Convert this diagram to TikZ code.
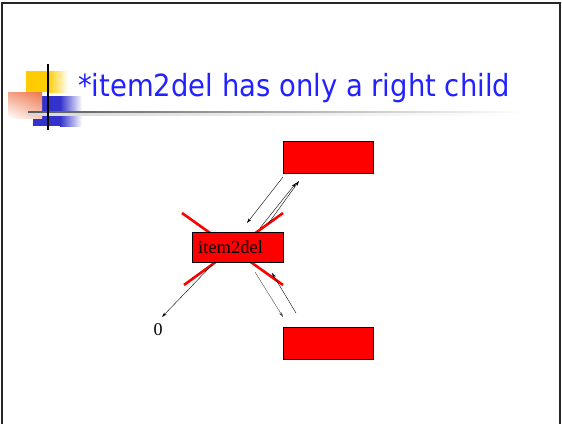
\documentclass[tikz,border=0pt]{standalone}
\usepackage{fontspec}
\setmainfont{Liberation Serif}
\newfontfamily\titlefont{DejaVu Sans}
\usetikzlibrary{arrows.meta,shadings}
\definecolor{titleblue}{RGB}{34,34,255}
\definecolor{logoyellow}{RGB}{255,204,0}
\definecolor{logoblue}{RGB}{51,51,204}
\definecolor{logoorange}{RGB}{238,120,80}
\tikzset{
  box/.style={draw=black, fill=red, line width=0.6pt, minimum width=90pt, minimum height=32pt, inner sep=0pt},
  link/.style={draw=black, line width=0.4pt, -{Stealth[length=5pt,width=3pt]}},
  cross/.style={draw=red, line width=2.6pt},
  frame/.style={draw=black!85, line width=2.5pt}
}
\begin{document}
\begin{tikzpicture}[x=1pt,y=-1pt]
\useasboundingbox (0,0) rectangle (562,423);
\fill[white] (0,0) rectangle (562,423);
% slide frame
\draw[frame] (2,430) -- (2,3) -- (560,3) -- (560,430);

% logo squares
\fill[logoyellow] (26,71) rectangle (48,92);
\shade[left color=logoyellow, right color=white] (48,71) rectangle (68,92);
\fill[logoblue] (33,96) rectangle (60,126);
\shade[left color=logoblue, right color=white] (60,96) rectangle (82,126);
\shade[lower left=white, upper right=logoorange, upper left=logoorange!70!white, lower right=logoorange!40!white] (8,92) rectangle (42,118);
% title rule
\shade[left color=black!65, right color=white] (28,111.5) rectangle (525,113.5);
\shade[left color=black!15, right color=white] (28,113.5) rectangle (525,115);
\draw[black, line width=2pt] (48,64) -- (48,130);

% title
\node[anchor=base west, inner sep=0pt, text=titleblue, font=\titlefont\fontsize{30.5}{34}\selectfont] (title) at (78,96) {\scalebox{0.9}[1]{*item2del has only a right child}};

% tree nodes
\node[box] (top) at (328,157) {};
\node[box] (bot) at (328,343.5) {};
\coordinate (x1a) at (182,213);
\coordinate (x1b) at (283,285);
\coordinate (x2a) at (283,213);
\coordinate (x2b) at (184,285);
\draw[cross] (x1a) -- (x1b);
\draw[cross] (x2a) -- (x2b);
\node[box, minimum width=91pt, minimum height=30pt] (del) at (237.5,247) {};
\node[anchor=base west, inner sep=0pt, font=\fontsize{18.5}{20}\selectfont] (dellabel) at (198,253.5) {item2del};
\node[inner sep=0pt, font=\fontsize{18}{20}\selectfont] (zero) at (158,330) {0};

% links
\coordinate (t1) at (283,177);
\coordinate (d1) at (247,223);
\draw[link] (t1) -- (d1);
\coordinate (d2) at (260,228);
\coordinate (t2) at (296,183);
\draw[link] (d2) -- (t2);
\coordinate (d3) at (268,224);
\coordinate (t3) at (299,181);
\draw[link] (d3) -- (t3);
\coordinate (d4) at (212,265);
\coordinate (z1) at (162,317);
\draw[link] (d4) -- (z1);
\coordinate (d5) at (255,272);
\coordinate (b1) at (283,317);
\draw[link, draw=black!70] (d5) -- (b1);
\coordinate (b2) at (296,313);
\coordinate (d6) at (272,273);
\draw[link] (b2) -- (d6);
\end{tikzpicture}
\end{document}
